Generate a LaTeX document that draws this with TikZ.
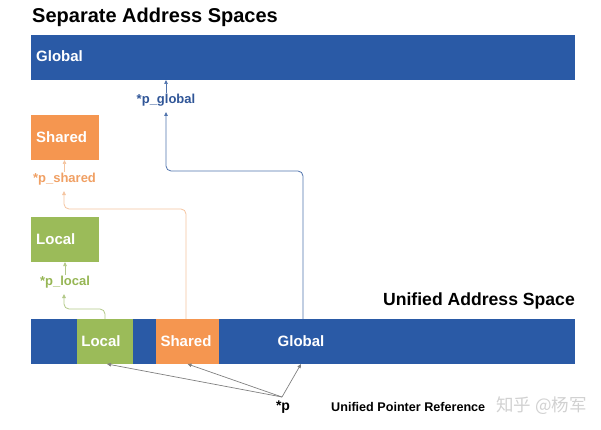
\documentclass[tikz,border=0pt]{standalone}
\usepackage{fontspec}
\setmainfont{Liberation Sans}
\newfontfamily\cjk{Noto Sans CJK SC}
\usetikzlibrary{arrows.meta,calc}
\definecolor{barblue}{RGB}{42,90,166}
\definecolor{boxgreen}{RGB}{155,187,89}
\definecolor{boxorange}{RGB}{245,150,80}
\definecolor{lineblue}{RGB}{80,115,172}
\definecolor{lineorange}{RGB}{244,196,160}
\definecolor{linegreen}{RGB}{178,200,136}
\definecolor{txtblue}{RGB}{47,85,151}
\definecolor{txtorange}{RGB}{240,160,100}
\definecolor{txtgreen}{RGB}{150,182,84}
\definecolor{arrgray}{RGB}{128,128,128}
\tikzset{
  blk/.style={inner sep=0pt, outer sep=0pt, minimum height=45pt},
  boxtxt/.style={text=white, font=\bfseries\fontsize{15}{17}\selectfont, inner sep=0pt, anchor=west},
  ptr/.style={font=\bfseries\fontsize{13}{15}\selectfont, inner sep=1pt},
  tip/.style={-{Triangle[length=4pt,width=3.5pt]}},
}
\begin{document}
\begin{tikzpicture}[x=1pt,y=-1pt]
\useasboundingbox (0,0) rectangle (601,430);
% titles
\node[font=\bfseries\fontsize{20}{22}\selectfont, inner sep=0pt, anchor=west] (t1) at (32,17) {Separate Address Spaces};
\node[font=\bfseries\fontsize{17.6}{20}\selectfont, inner sep=0pt, anchor=east] (t2) at (575,301) {Unified Address Space};
% separate spaces
\node[blk, fill=barblue, minimum width=544pt] (gbar) at (303,57.5) {};
\node[boxtxt] (gbartxt) at (36,56) {Global};
\node[blk, fill=boxorange, minimum width=68pt] (shbox) at (65,137.5) {};
\node[boxtxt] (shtxt) at (36,137) {Shared};
\node[blk, fill=boxgreen, minimum width=68pt] (lobox) at (65,239.5) {};
\node[boxtxt] (lotxt) at (36,239) {Local};
% pointer labels
\node[ptr, text=txtblue] (pglobal) at (166,100) {*p\_global};
\node[ptr, text=txtorange] (pshared) at (64.5,179) {*p\_shared};
\node[ptr, text=txtgreen] (plocal) at (65,282) {*p\_local};
% unified bar
\node[blk, fill=barblue, minimum width=544pt] (ubar) at (303,341.5) {};
\node[blk, fill=boxgreen, minimum width=56pt] (ulocal) at (105,341.5) {};
\node[blk, fill=boxorange, minimum width=63pt] (ushared) at (187.5,341.5) {};
\node[boxtxt, anchor=center] (ultxt) at (101,341) {Local};
\node[boxtxt, anchor=center] (ushtxt) at (186,341) {Shared};
\node[boxtxt, anchor=center] (ugtxt) at (301,341) {Global};
% bottom labels
\node[font=\bfseries\fontsize{14}{16}\selectfont, inner sep=0pt] (pp) at (283,407) {*p};
\node[font=\bfseries\fontsize{12.6}{14}\selectfont, inner sep=0pt, anchor=west] (upr) at (331,407) {Unified Pointer Reference};
\node[font=\cjk\fontsize{17.5}{19}\selectfont, text=black!18, inner sep=0pt, anchor=west] (wm) at (496,406) {知乎 @杨军};
% short arrows into separate spaces
\draw[lineblue, line width=0.7pt, tip] (pglobal.north) -- (pglobal.north |- gbar.south);
\draw[lineorange, line width=0.7pt, tip] (pshared.north) -- (pshared.north |- shbox.south);
\draw[linegreen, line width=0.7pt, tip] (plocal.north) -- (plocal.north |- lobox.south);
% long connectors
\coordinate (gstart) at ($(ubar.north west)+(272,0)$);
\draw[lineblue, line width=0.8pt, tip, rounded corners=5pt] (gstart) |- (166,171) -- (166,112);
\draw[lineorange, line width=0.8pt, tip, rounded corners=5pt] (ushared.north -| 186,0) |- (64,209) -- (64,191);
\draw[linegreen, line width=0.8pt, tip, rounded corners=5pt] (ulocal.north) |- (64,309) -- (64,294);
% unified pointer arrows
\coordinate (pbase) at (282,397);
\draw[arrgray, line width=0.7pt, tip] (pbase) -- ([xshift=2pt]ulocal.south);
\draw[arrgray, line width=0.7pt, tip] (pbase) -- (ushared.south);
\draw[arrgray, line width=0.7pt, tip] (pbase) -- (ugtxt |- ubar.south);
\end{tikzpicture}
\end{document}
